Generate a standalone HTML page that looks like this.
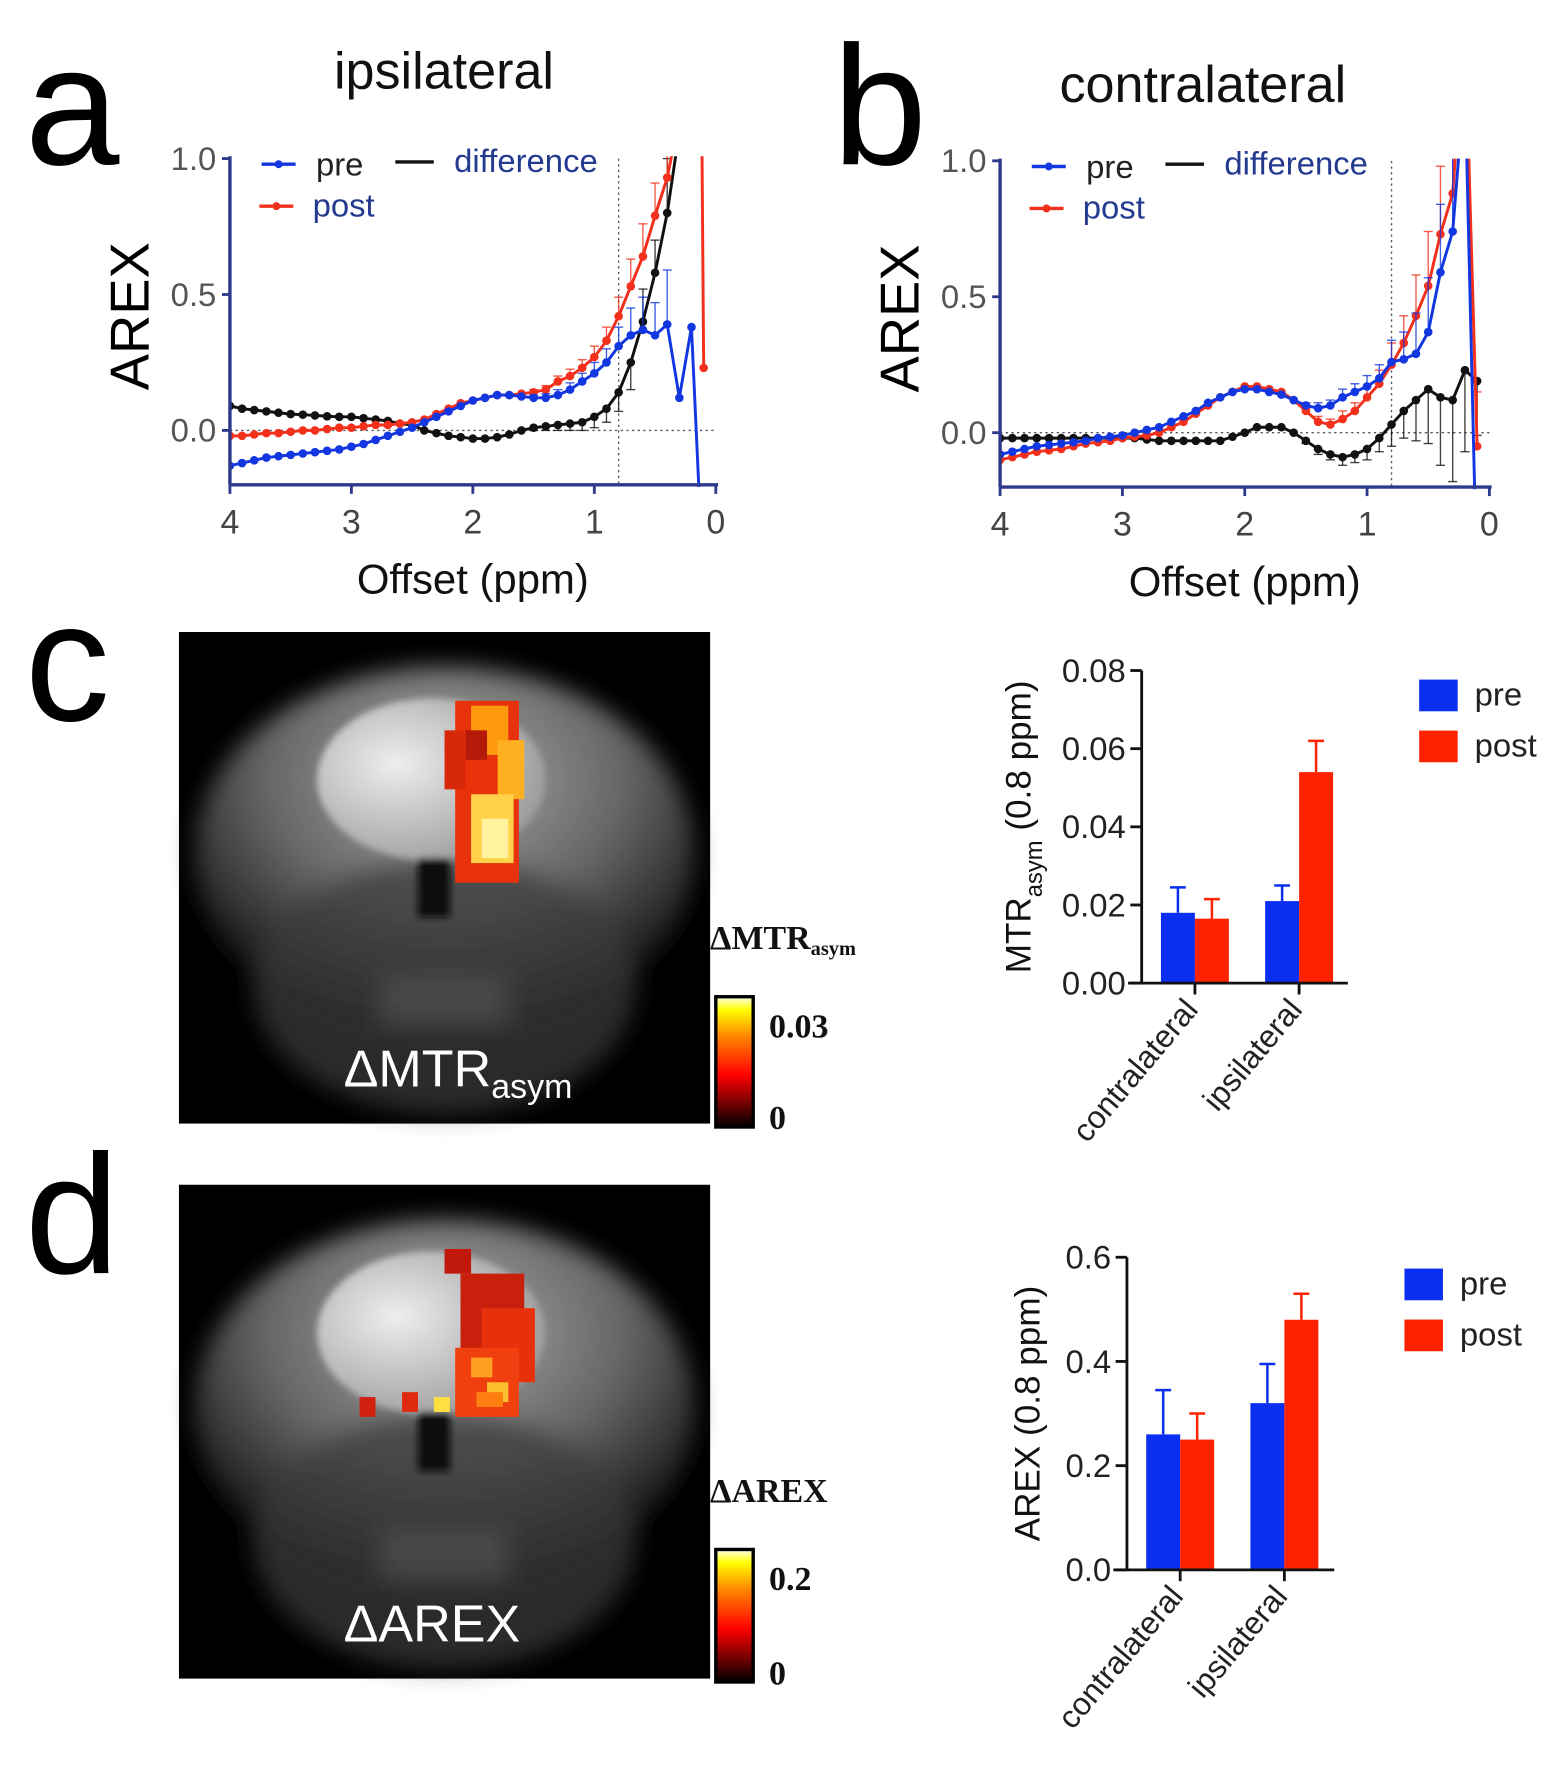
<!DOCTYPE html>
<html><head><meta charset="utf-8"><style>
html,body{margin:0;padding:0;background:#fff;}
svg{display:block;}
text{font-family:"Liberation Sans",sans-serif;}
.ser{font-family:"Liberation Serif",serif;font-weight:bold;}
</style></head><body>
<svg id="fig" width="1563" height="1776" viewBox="0 0 1380 1568" preserveAspectRatio="none" xmlns="http://www.w3.org/2000/svg">
<defs>
<clipPath id="clipA"><rect x="203" y="138" width="432" height="292"/></clipPath>
<clipPath id="clipB"><rect x="883" y="140" width="435" height="292"/></clipPath>
<radialGradient id="headG" cx="0.5" cy="0.3" r="0.65"><stop offset="0" stop-color="#aaa"/><stop offset="0.55" stop-color="#666"/><stop offset="1" stop-color="#111"/></radialGradient>
<radialGradient id="brainG" cx="0.35" cy="0.4" r="0.7"><stop offset="0" stop-color="#eee"/><stop offset="1" stop-color="#999"/></radialGradient>
<linearGradient id="cbar" x1="0" y1="1" x2="0" y2="0"><stop offset="0" stop-color="#000"/><stop offset="0.4" stop-color="#f00"/><stop offset="0.7" stop-color="#f80"/><stop offset="0.9" stop-color="#ff0"/><stop offset="1" stop-color="#ffe"/></linearGradient>
<filter id="blur" x="-0.2" y="-0.2" width="1.4" height="1.4"><feGaussianBlur stdDeviation="10"/></filter>
<filter id="blur2" x="-0.2" y="-0.2" width="1.4" height="1.4"><feGaussianBlur stdDeviation="3"/></filter>
</defs>
<g id="root"></g>
</svg>
<script>
// ===== Panel a/b data =====
const offsets = [4.0,3.9,3.8,3.7,3.6,3.5,3.4,3.3,3.2,3.1,3.0,2.9,2.8,2.7,2.6,2.5,2.4,2.3,2.2,2.1,2.0,1.9,1.8,1.7,1.6,1.5,1.4,1.3,1.2,1.1,1.0,0.9,0.8,0.7,0.6,0.5,0.4,0.3,0.2,0.1];
const preA  = [-0.13,-0.12,-0.11,-0.10,-0.095,-0.09,-0.085,-0.08,-0.075,-0.07,-0.06,-0.05,-0.035,-0.02,-0.005,0.01,0.03,0.05,0.07,0.09,0.11,0.12,0.13,0.13,0.125,0.12,0.12,0.13,0.15,0.18,0.21,0.25,0.31,0.35,0.37,0.35,0.39,0.12,0.38,-0.6];
const postA = [-0.02,-0.02,-0.015,-0.01,-0.01,-0.005,0.0,0.0,0.005,0.01,0.01,0.015,0.02,0.02,0.025,0.03,0.04,0.06,0.08,0.10,0.11,0.12,0.13,0.13,0.135,0.14,0.15,0.18,0.20,0.23,0.27,0.33,0.42,0.53,0.64,0.79,0.93,1.15,6.0,0.23];
const diffA = [0.09,0.08,0.075,0.07,0.065,0.06,0.058,0.055,0.052,0.05,0.05,0.045,0.04,0.035,0.025,0.02,0.0,-0.01,-0.02,-0.025,-0.03,-0.03,-0.025,-0.015,0.0,0.01,0.015,0.02,0.025,0.03,0.05,0.08,0.14,0.25,0.40,0.58,0.80,1.10,null,null];
const preB  = [-0.08,-0.07,-0.06,-0.05,-0.045,-0.04,-0.035,-0.03,-0.02,-0.015,-0.01,0.0,0.01,0.02,0.04,0.06,0.08,0.11,0.13,0.15,0.16,0.16,0.15,0.14,0.12,0.10,0.09,0.10,0.13,0.15,0.17,0.20,0.26,0.27,0.29,0.37,0.59,0.74,1.3,-0.6];
const postB = [-0.10,-0.09,-0.08,-0.07,-0.065,-0.06,-0.05,-0.04,-0.035,-0.03,-0.02,-0.015,-0.01,0.0,0.02,0.04,0.07,0.10,0.13,0.15,0.17,0.17,0.16,0.15,0.12,0.08,0.04,0.03,0.05,0.08,0.13,0.18,0.25,0.33,0.43,0.54,0.73,0.88,1.5,-0.05];
const diffB = [-0.02,-0.02,-0.02,-0.02,-0.02,-0.02,-0.02,-0.02,-0.02,-0.02,-0.02,-0.02,-0.025,-0.03,-0.03,-0.03,-0.03,-0.03,-0.03,-0.015,0.0,0.02,0.02,0.02,0.0,-0.03,-0.06,-0.08,-0.09,-0.08,-0.06,-0.02,0.03,0.08,0.12,0.16,0.13,0.12,0.23,0.19];
const errA = [0,0,0,0,0,0,0,0,0,0,0,0,0,0,0,0,0,0,0,0,0,0,0,0,0,0.01,0.015,0.02,0.025,0.03,0.04,0.05,0.07,0.1,0.12,0.12,0.2,0,0,0];
const errB = [0,0,0,0,0,0,0,0,0,0,0,0,0,0,0,0,0,0,0,0,0,0,0,0,0,0.01,0.02,0.02,0.03,0.03,0.04,0.05,0.08,0.1,0.15,0.2,0.25,0.3,0.3,0.2];
const yTicksLine = [0.0,0.5,1.0];
const yTickLabels = ["0.0","0.5","1.0"];
const xTicksLine = [4,3,2,1,0];

// ===== bar data =====
const barCats = ["contralateral","ipsilateral"];
const mtrPre = [0.018,0.021], mtrPreErr=[0.0065,0.004];
const mtrPost = [0.0165,0.054], mtrPostErr=[0.005,0.008];
const mtrTicks = [0,0.02,0.04,0.06,0.08], mtrTickLabels=["0.00","0.02","0.04","0.06","0.08"];
const arexPre = [0.26,0.32], arexPreErr=[0.085,0.075];
const arexPost = [0.25,0.48], arexPostErr=[0.05,0.05];
const arexTicks = [0,0.2,0.4,0.6], arexTickLabels=["0.0","0.2","0.4","0.6"];

const NS="http://www.w3.org/2000/svg";
const root=document.getElementById('root');
function mk(tag,attrs,parent,txt){const e=document.createElementNS(NS,tag);for(const k in attrs)e.setAttribute(k,attrs[k]);if(txt!==undefined)e.textContent=txt;(parent||root).appendChild(e);return e;}

function linePanel(p){
  const g=mk('g',{});
  
  
  const X=v=>p.x0+(4-v)*(p.x1-p.x0)/4, Y=v=>p.y0-v*(p.y0-p.y1);
  const ax='#2d3a8c';
  const h=mk('line',{x1:X(4),x2:X(0),y1:Y(0),y2:Y(0),stroke:'#556',"stroke-width":1.2,"stroke-dasharray":'2,3'},g);
  
  const v=mk('line',{x1:X(0.8),x2:X(0.8),y1:p.y1,y2:p.yb,stroke:'#556',"stroke-width":1.2,"stroke-dasharray":'2,3'},g);
  
  const cg=mk('g',{"clip-path":`url(#${p.clip})`},g);
  function series(vals,err,color,name,dots){
    const sg=mk('g',{},cg);
    
    let d='';let pen=false;
    vals.forEach((val,i)=>{if(val===null){pen=false;return;}d+=(pen?'L':'M')+X(offsets[i]).toFixed(1)+','+Y(val).toFixed(1);pen=true;});
    if(err){vals.forEach((val,i)=>{if(val===null||!err[i])return;const up=val>=0.3||name.indexOf('diff')<0;const e2=up?val+err[i]:val-err[i];
      mk('line',{x1:X(offsets[i]),x2:X(offsets[i]),y1:Y(val),y2:Y(e2),stroke:color,"stroke-width":1.2,opacity:0.8},sg);
      mk('line',{x1:X(offsets[i])-4,x2:X(offsets[i])+4,y1:Y(e2),y2:Y(e2),stroke:color,"stroke-width":1.2,opacity:0.8},sg);});}
    mk('path',{d:d,fill:'none',stroke:color,"stroke-width":2.6},sg);
    if(dots)vals.forEach((val,i)=>{if(val===null||val>1.05||val<-0.3)return;mk('circle',{cx:X(offsets[i]),cy:Y(val),r:3.8,fill:color},sg);});
  }
  series(p.diff,p.diffErr,'#111','difference-series',true);
  series(p.post,p.err,'#f2301c','post-series',true);
  series(p.pre,p.err,'#1236e0','pre-series',true);
  const ya=mk('line',{x1:p.x0,x2:p.x0,y1:p.y1-2,y2:p.yb,stroke:ax,"stroke-width":3},g);
  
  const xa=mk('line',{x1:p.x0,x2:X(0)+2,y1:p.yb,y2:p.yb,stroke:ax,"stroke-width":3},g);
  
  yTicksLine.forEach((t,i)=>{mk('line',{x1:p.x0-7,x2:p.x0,y1:Y(t),y2:Y(t),stroke:ax,"stroke-width":2.5},g);
    const tl=mk('text',{x:p.x0-12,y:Y(t)+10,"text-anchor":'end',"font-size":29,fill:'#555'},g,yTickLabels[i]);
    });
  xTicksLine.forEach(t=>{mk('line',{x1:X(t),x2:X(t),y1:p.yb,y2:p.yb+8,stroke:ax,"stroke-width":2.5},g);
    const tl=mk('text',{x:X(t),y:p.yb+43,"text-anchor":'middle',"font-size":30,fill:'#444'},g,String(t));
    });
  const yt=mk('text',{x:0,y:0,transform:`translate(${p.x0-72},${Y(0.42)}) rotate(-90)`,"text-anchor":'middle',"font-size":48,fill:'#000'},g,'AREX');
  
  const xt=mk('text',{x:(p.x0+X(0))/2,y:p.yb+96,"text-anchor":'middle',"font-size":37,fill:'#111'},g,'Offset (ppm)');
  
  const lg=mk('g',{},g);
  const lx=p.x0+28;
  mk('line',{x1:lx,x2:lx+30,y1:p.y1+5,y2:p.y1+5,stroke:'#1236e0',"stroke-width":3},lg);mk('circle',{cx:lx+15,cy:p.y1+5,r:3.5,fill:'#1236e0'},lg);
  mk('text',{x:lx+48,y:p.y1+15,"font-size":29,fill:'#222'},lg,'pre');
  mk('line',{x1:lx+118,x2:lx+152,y1:p.y1+3,y2:p.y1+3,stroke:'#111',"stroke-width":3},lg);
  mk('text',{x:lx+170,y:p.y1+12,"font-size":29,fill:'#233a8f'},lg,'difference');
  mk('line',{x1:lx-2,x2:lx+28,y1:p.y1+42,y2:p.y1+42,stroke:'#f2301c',"stroke-width":3},lg);mk('circle',{cx:lx+13,cy:p.y1+42,r:3.5,fill:'#f2301c'},lg);
  mk('text',{x:lx+45,y:p.y1+51,"font-size":29,fill:'#233a8f'},lg,'post');
  const tt=mk('text',{x:p.tx,y:p.ty,"text-anchor":'middle',"font-size":46,fill:'#111'},g,p.title);
  
  const lt=mk('text',{x:p.lx,y:p.ly,"font-size":150,fill:'#000'},g,p.letter);
  
}
linePanel({name:'panel-a-chart',x0:203,x1:632,y0:380,y1:140,yb:428,clip:'clipA',pre:preA,post:postA,diff:diffA,err:errA,diffErr:errA,title:'ipsilateral',tx:392,ty:78,letter:'a',lx:22,ly:145});
linePanel({name:'panel-b-chart',x0:883,x1:1315,y0:382,y1:142,yb:430,clip:'clipB',pre:preB,post:postB,diff:diffB,err:errB,diffErr:errB,title:'contralateral',tx:1062,ty:90,letter:'b',lx:735,ly:145});

// ===== MRI images =====
function mri(name,x,y,w,h,label,sub,cbTop,cbLabel,cbSub,cbMax,letter,pix){
  const g=mk('g',{});
  mk('rect',{x:x,y:y,width:w,height:h,fill:'#000'},g);
  const hb=mk('g',{filter:'url(#blur)'},g);
  mk('ellipse',{cx:x+w*0.5,cy:y+h*0.45,rx:w*0.47,ry:h*0.38,fill:'url(#headG)'},hb);
  mk('ellipse',{cx:x+w*0.5,cy:y+h*0.72,rx:w*0.36,ry:h*0.26,fill:'#3a3a3a',opacity:0.7},hb);
  mk('rect',{x:x+w*0.38,y:y+h*0.7,width:w*0.24,height:h*0.1,fill:'#555',opacity:0.6},hb);
  const bb=mk('g',{filter:'url(#blur2)'},g);
  mk('ellipse',{cx:x+w*0.475,cy:y+h*0.3,rx:w*0.215,ry:h*0.165,fill:'url(#brainG)'},bb);
  mk('rect',{x:x+w*0.45,y:y+h*0.46,width:w*0.06,height:h*0.12,fill:'#080808'},bb);
  pix.forEach(q=>mk('rect',{x:x+q[0]*w,y:y+q[1]*h,width:q[2]*w,height:q[3]*h,fill:q[4]},g));
  const t=mk('text',{x:x+w*0.31,y:y+h*0.925,"font-size":46,fill:'#fff'},g,label);
  if(sub)mk('tspan',{"font-size":30,dy:10},t,sub);
  
  const cb=mk('rect',{x:x+w+5,y:cbTop,width:33,height:y+h-cbTop+3,fill:'url(#cbar)',stroke:'#000',"stroke-width":3},g);
  
  const cl=mk('text',{x:x+w,y:cbTop-42,"font-size":30,fill:'#111',class:'ser'},g,cbLabel);
  if(cbSub)mk('tspan',{"font-size":18,dy:5},cl,cbSub);
  mk('text',{x:x+w+52,y:cbTop+36,"font-size":30,fill:'#111',class:'ser'},g,cbMax);
  mk('text',{x:x+w+52,y:y+h+5,"font-size":30,fill:'#111',class:'ser'},g,'0');
  mk('text',{x:22,y:y+78,"font-size":150,fill:'#000'},g,letter);
}
mri('mtr-map',158,558,469,434,'ΔMTR','asym',880,'ΔMTR','asym','0.03','c',
 [[0.52,0.14,0.12,0.37,'#e8320c'],[0.5,0.2,0.04,0.12,'#d8280a'],[0.55,0.15,0.07,0.1,'#ff9a10'],[0.6,0.22,0.05,0.12,'#ffb020'],[0.55,0.33,0.08,0.14,'#ffd24a'],[0.57,0.38,0.05,0.08,'#fff3a0'],[0.54,0.2,0.04,0.06,'#b51a08']]);
mri('arex-map',158,1046,469,436,'ΔAREX','',1368,'ΔAREX','','0.2','d',
 [[0.5,0.13,0.05,0.05,'#c0180a'],[0.53,0.18,0.12,0.17,'#c8200c'],[0.57,0.25,0.1,0.15,'#e8300c'],[0.52,0.33,0.12,0.14,'#f04010'],[0.55,0.35,0.04,0.04,'#ffa020'],[0.58,0.4,0.04,0.04,'#ffc030'],[0.34,0.43,0.03,0.04,'#d02010'],[0.42,0.42,0.03,0.04,'#e02a10'],[0.48,0.43,0.03,0.03,'#ffe040'],[0.56,0.42,0.05,0.03,'#ff8010']]);

// ===== bar charts =====
function barChart(name,ax0,yTop,yBot,xEnd,ticks,tickLabels,maxV,pre,preE,post,postE,catX,legX,legY,titleParts){
  const g=mk('g',{});
  const Y=v=>yBot-v/maxV*(yBot-yTop);const bw=30;
  catX.forEach((cx,i)=>{
    [[pre,preE,'#0a2ff0',-bw,'pre'],[post,postE,'#ff2200',0,'post']].forEach(s=>{
      const v=s[0][i],e=s[1][i];
      const b=mk('rect',{x:cx+s[3],y:Y(v),width:bw,height:yBot-Y(v),fill:s[2]},g);
      
      mk('line',{x1:cx+s[3]+bw/2,x2:cx+s[3]+bw/2,y1:Y(v),y2:Y(v+e),stroke:s[2],"stroke-width":2.2},g);
      mk('line',{x1:cx+s[3]+bw/2-7,x2:cx+s[3]+bw/2+7,y1:Y(v+e),y2:Y(v+e),stroke:s[2],"stroke-width":2.2},g);
    });
    mk('line',{x1:cx,x2:cx,y1:yBot,y2:yBot+10,stroke:'#111',"stroke-width":2.5},g);
    const t=mk('text',{x:0,y:0,transform:`translate(${cx+4},${yBot+24}) rotate(-50)`,"text-anchor":'end',"font-size":28,fill:'#222'},g,barCats[i]);
    
  });
  const ya=mk('line',{x1:ax0,x2:ax0,y1:yTop,y2:yBot,stroke:'#111',"stroke-width":2.5},g);
  
  const xa=mk('line',{x1:ax0-12,x2:xEnd,y1:yBot,y2:yBot,stroke:'#111',"stroke-width":2.5},g);
  
  ticks.forEach((t,i)=>{mk('line',{x1:ax0-10,x2:ax0,y1:Y(t),y2:Y(t),stroke:'#111',"stroke-width":2.5},g);
    const l=mk('text',{x:ax0-14,y:Y(t)+10,"text-anchor":'end',"font-size":29,fill:'#222'},g,tickLabels[i]);
    });
  const tt=mk('text',{x:0,y:0,transform:`translate(${titleParts[1]},${(yTop+yBot)/2}) rotate(-90)`,"text-anchor":'middle',"font-size":31,fill:'#111'},g,titleParts[0]);
  if(titleParts[2]){mk('tspan',{"font-size":21,dy:10},tt,titleParts[2]);mk('tspan',{dy:-10},tt,' (0.8 ppm)');}
  
  const lg=mk('g',{},g);
  mk('rect',{x:legX,y:legY,width:34,height:28,fill:'#0a2ff0'},lg);
  mk('text',{x:legX+49,y:legY+23,"font-size":29,fill:'#222'},lg,'pre');
  mk('rect',{x:legX,y:legY+45,width:34,height:28,fill:'#ff2200'},lg);
  mk('text',{x:legX+49,y:legY+68,"font-size":29,fill:'#222'},lg,'post');
}
barChart('mtr-bar-chart',1008,592,868,1190,mtrTicks,mtrTickLabels,0.08,mtrPre,mtrPreErr,mtrPost,mtrPostErr,[1055,1147],1253,600,['MTR',910,'asym']);
barChart('arex-bar-chart',995,1110,1386,1178,arexTicks,arexTickLabels,0.6,arexPre,arexPreErr,arexPost,arexPostErr,[1042,1134],1240,1120,['AREX (0.8 ppm)',918,'']);
</script>
</body></html>
